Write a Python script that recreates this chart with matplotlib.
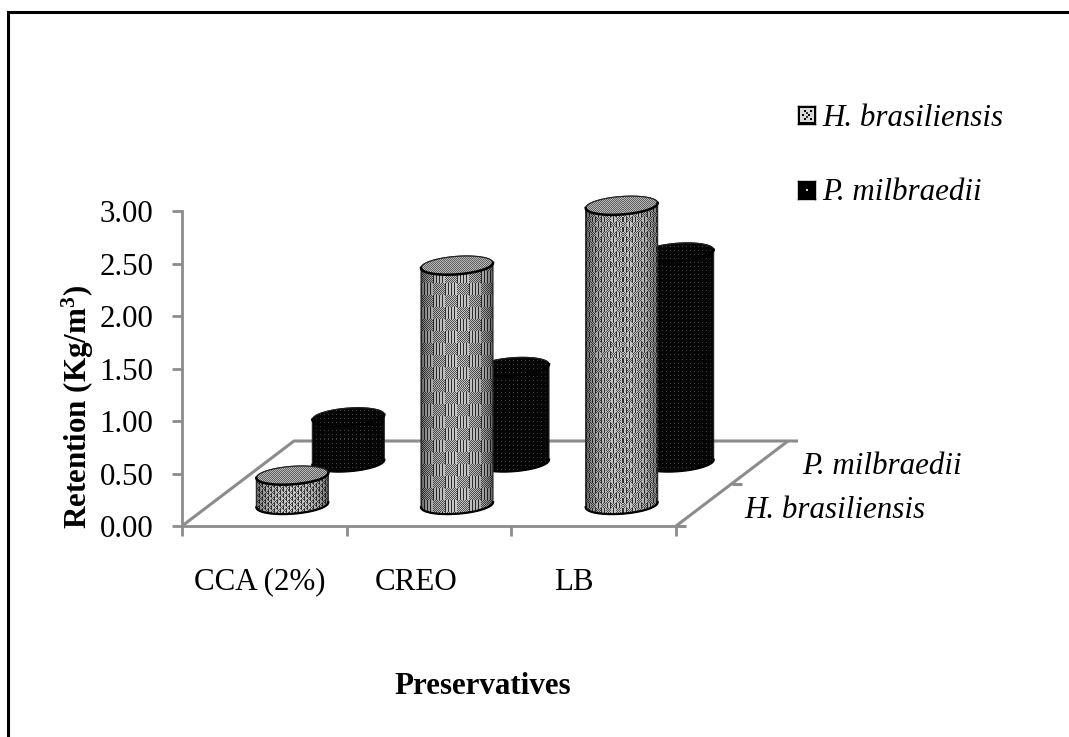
import numpy as np
import matplotlib
matplotlib.use('Agg')
import matplotlib.pyplot as plt
from matplotlib.patches import Polygon
from matplotlib.lines import Line2D

plt.rcParams['font.family'] = ['Liberation Serif', 'DejaVu Serif']
plt.rcParams['mathtext.fontset'] = 'custom'
plt.rcParams['mathtext.bf'] = 'Liberation Serif:bold'
plt.rcParams['mathtext.rm'] = 'Liberation Serif'

# data
categories = ['CCA (2%)', 'CREO', 'LB']
series_names = ['H. brasiliensis', 'P. milbraedii']
h_brasiliensis = [0.28, 2.28, 2.85]
p_milbraedii = [0.43, 0.91, 2.00]
y_ticks = [0.0, 0.5, 1.0, 1.5, 2.0, 2.5, 3.0]

W, H = 1069, 737
GRAY = '#8c8c8c'
FS = 22.3
# front plane of the chart, in pixels of the picture
LEFT, RIGHT, TOP, BOTTOM = 182, 676, 211, 526
PX_X = 3 / (RIGHT - LEFT)
PX_Y = 3 / (BOTTOM - TOP)
DEPTH_DX = 112 * PX_X
DEPTH_DY = 85 * PX_Y

fig = plt.figure(figsize=(W / 100, H / 100), dpi=100)
# axes fill the whole figure so the cylinders can leave the 0-3 box
ax = fig.add_axes([0, 0, 1, 1])


def texture(w, h, kind, block=12):
    # halftone look of the old spreadsheet fills
    yy, xx = np.mgrid[0:h, 0:w]
    u = (xx + 0.5) / w * 2 - 1
    shade = 0.30 + 0.70 * np.clip(1 - u ** 2, 0, 1) ** 0.4
    check = ((xx + yy) % 2).astype(float)
    if kind == 'light':
        blocks = ((xx // block + yy // block) % 2).astype(float)
        stripes = (xx % 3 == 0).astype(float)
        img = blocks * (0.78 - 0.6 * stripes) + (1 - blocks) * (0.30 + 0.50 * check)
        img = shade * img
    elif kind == 'top':
        img = 0.55 + 0.35 * (check - 0.5)
    else:
        dots = ((xx % 4 == 0) & (yy % 4 == 0)).astype(float)
        img = 0.02 + 0.25 * dots * shade
    return np.clip(img, 0, 1)


def cylinder(cat, depth, value, kind, block=12):
    a = 36 * PX_X
    b = 9 * PX_Y
    k = 0.07
    cx = cat + 0.5 + depth * DEPTH_DX
    y0 = depth * DEPTH_DY
    y1 = y0 + value
    z = 3 + (1 - depth)

    def ell(t, yc):
        return np.column_stack([cx + a * np.cos(t),
                                yc + b * np.sin(t) + k * a * np.cos(t) * PX_Y / PX_X])

    bottom_half = ell(np.linspace(np.pi, 2 * np.pi, 60), y0)
    top_half = ell(np.linspace(0, np.pi, 60), y1)
    body = np.vstack([bottom_half, top_half])
    full_top = ell(np.linspace(0, 2 * np.pi, 120), y1)
    extent = [cx - a, cx + a, y0 - 2 * b, y1 + 2 * b]
    nh = max(int((extent[3] - extent[2]) / PX_Y), 2)

    im = ax.imshow(texture(72, nh, kind, block), extent=extent, cmap='gray', vmin=0, vmax=1,
                   aspect='auto', interpolation='nearest', zorder=z)
    im.set_clip_path(Polygon(body, closed=True, transform=ax.transData))
    ax.add_patch(Polygon(body, closed=True, fill=False, ec='#222222', lw=0.8, zorder=z + 0.05))
    ax.plot(bottom_half[:, 0], bottom_half[:, 1], color='black', lw=1.6, zorder=z + 0.06)

    im2 = ax.imshow(texture(72, nh, 'top' if kind == 'light' else 'dark'), extent=extent, cmap='gray',
                    vmin=0, vmax=1, aspect='auto', interpolation='nearest', zorder=z + 0.1)
    im2.set_clip_path(Polygon(full_top, closed=True, transform=ax.transData))
    ax.add_patch(Polygon(full_top, closed=True, fill=False, ec='#222222', lw=0.8, zorder=z + 0.15))
    low = ell(np.linspace(np.pi, 2 * np.pi, 60), y1)
    ax.plot(low[:, 0], low[:, 1], color='black', lw=1.8, zorder=z + 0.16)


# floor
ln = dict(color=GRAY, lw=2.2, zorder=1, solid_capstyle='butt')
ax.plot([0, DEPTH_DX, 3 + DEPTH_DX + 10 * PX_X], [0, DEPTH_DY, DEPTH_DY], **ln)
ax.plot([3, 3 + DEPTH_DX], [0, DEPTH_DY], **ln)
for d in [0, 0.5]:
    ax.plot([3 + d * DEPTH_DX, 3 + d * DEPTH_DX + 10 * PX_X], [d * DEPTH_DY] * 2, **ln)

for i in range(len(categories)):
    cylinder(i, 0.75, p_milbraedii[i], 'dark')
for i, block in enumerate([3, 12, 5]):
    cylinder(i, 0.25, h_brasiliensis[i], 'light', block)

ax.set_xlim(-LEFT * PX_X, (W - LEFT) * PX_X)
ax.set_ylim((BOTTOM - H) * PX_Y, BOTTOM * PX_Y)
ax.patch.set_visible(False)
for s in ['top', 'right']:
    ax.spines[s].set_visible(False)
for s in ['left', 'bottom']:
    ax.spines[s].set_color(GRAY)
    ax.spines[s].set_linewidth(2.0)
    ax.spines[s].set_position(('data', 0))
    ax.spines[s].set_bounds(0, 3)
ax.set_xticks([0, 1, 2, 3])
ax.set_xticklabels([])
ax.set_yticks(y_ticks)
ax.set_yticklabels(['%.2f' % v for v in y_ticks], fontsize=FS)
ax.tick_params(axis='both', color=GRAY, width=2.0, length=7.5)
ax.tick_params(axis='y', pad=13)

# category and depth labels
for i, c in enumerate(categories):
    ax.text(i + 0.5 - (5 + 7.5 * i) * PX_X, -56 * PX_Y, c, ha='center', va='center', fontsize=FS)
fig.text(744 / W, 1 - 510 / H, series_names[0], style='italic', fontsize=FS, va='center')
fig.text(802 / W, 1 - 466 / H, series_names[1], style='italic', fontsize=FS, va='center')

fig.text(483 / W, 1 - 686 / H, 'Preservatives', weight='bold', fontsize=FS, ha='center', va='center')
fig.text(78 / W, 1 - 407 / H, r'Retention (Kg/m$\mathbf{^{3}}$)', weight='bold', fontsize=FS,
         rotation=90, ha='center', va='center')

# legend
for y, name, kind in [(115, series_names[0], 'light'), (190, series_names[1], 'dark')]:
    sw = fig.add_axes([798 / W, 1 - (y + 9) / H, 17 / W, 18 / H])
    arr = np.zeros((9, 9))
    if kind == 'light':
        arr[1:8, 1:8] = 0.85
        arr[[2, 2, 4, 4, 6, 6], [3, 6, 2, 5, 3, 6]] = 0.0
        arr[[3, 5], [4, 4]] = 0.2
    else:
        arr[4, 4] = 0.8
    sw.imshow(arr, cmap='gray', vmin=0, vmax=1, aspect='auto', interpolation='nearest')
    sw.set_xticks([])
    sw.set_yticks([])
    for s in sw.spines.values():
        s.set_linewidth(1.0)
    fig.text(822 / W, 1 - (y + 3) / H, name, style='italic', fontsize=FS, va='center')

# outer frame, only top and left are on the picture
fig.add_artist(Line2D([7.5 / W, 7.5 / W, 1], [0, 1 - 12 / H, 1 - 12 / H], color='black', lw=2.2,
                      solid_joinstyle='miter', transform=fig.transFigure))

fig.savefig('out.png', dpi=100)
